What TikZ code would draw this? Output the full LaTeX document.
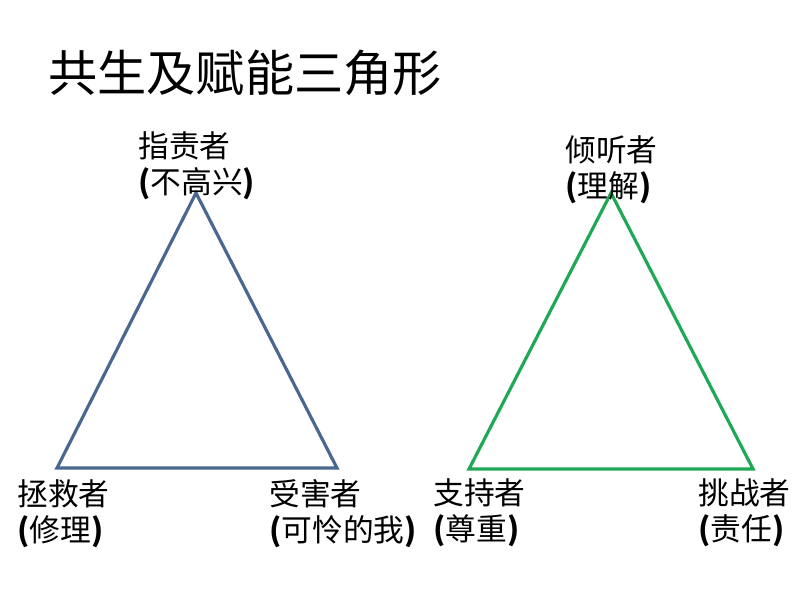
\documentclass[tikz,border=0pt]{standalone}
\usepackage{fontspec}
\setmainfont{Liberation Sans}
\newfontfamily\cjk{Noto Sans CJK SC}
\usetikzlibrary{positioning}
\definecolor{triblue}{HTML}{4A6790}
\definecolor{trigreen}{HTML}{1FA855}

\begin{document}
\begin{tikzpicture}[
  x=0.02cm, y=-0.02cm,
  side/.style={line width=1.8pt,line join=miter},
  role/.style={anchor=west,inner sep=0pt,align=left,
               font=\cjk\fontsize{17.5}{20.5}\selectfont},
  ttl/.style={anchor=west,inner sep=0pt,font=\cjk\fontsize{28}{30}\selectfont}
]
\useasboundingbox (0,0) rectangle (800,600);

% ---- Title --------------------------------------------------
\node[ttl] (title) at (48,73) {共生及赋能三角形};

% ---- Left triangle ------------------------------------------
\coordinate (bl) at (196,193);
\coordinate (bs) at (57,468);
\coordinate (bv) at (337,468);
\draw[side,triblue] (bl) -- (bv) -- (bs) -- cycle;

\node[role] (blamer)  at (138,166) {指责者\\{\bfseries(}不高兴{\bfseries)}};
\node[role] (saviour) at (17,514)  {拯救者\\{\bfseries(}修理{\bfseries)}};
\node[role] (victim)  at (269,514) {受害者\\{\bfseries(}可怜的我{\bfseries)}};

% ---- Right triangle -----------------------------------------
\coordinate (gl) at (611,193);
\coordinate (gs) at (469,469);
\coordinate (gc) at (753,469);
\draw[side,trigreen] (gl) -- (gc) -- (gs) -- cycle;

\node[role] (listener)   at (565,170) {倾听者\\{\bfseries(}理解{\bfseries)}};
\node[role] (supporter)  at (433,513) {支持者\\{\bfseries(}尊重{\bfseries)}};
\node[role] (challenger) at (698,513) {挑战者\\{\bfseries(}责任{\bfseries)}};

\end{tikzpicture}
\end{document}
